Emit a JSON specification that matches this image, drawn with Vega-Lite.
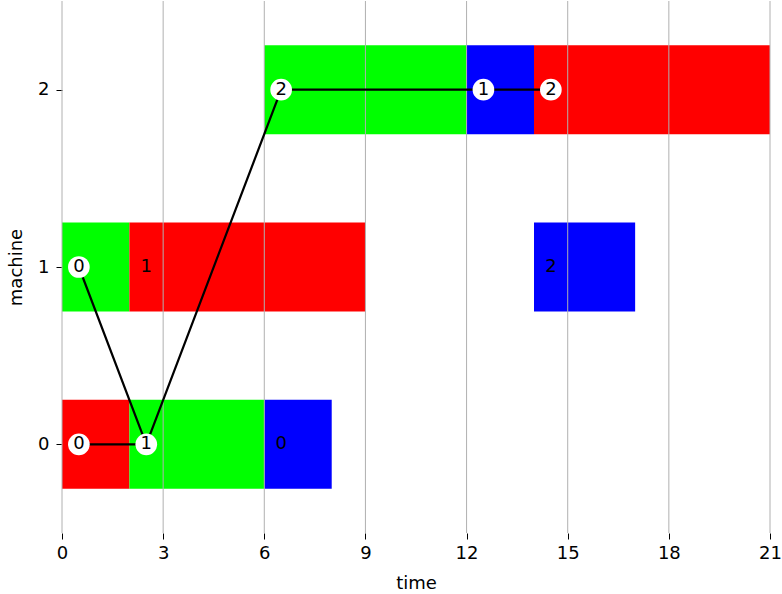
{
  "$schema": "https://vega.github.io/schema/vega-lite/v6.json",
  "width": 708,
  "height": 532,
  "autosize": {"type": "none"},
  "padding": {"left": 62, "top": 1, "right": 12, "bottom": 61},
  "background": "white",
  "config": {
    "view": {"stroke": null},
    "font": "DejaVu Sans"
  },
  "datasets": {
    "tasks": [
      {"machine": 0, "job": "red", "op": "0", "start": 0, "end": 2, "lx": 0.5, "crit": true},
      {"machine": 0, "job": "green", "op": "1", "start": 2, "end": 6, "lx": 2.5, "crit": true},
      {"machine": 0, "job": "blue", "op": "0", "start": 6, "end": 8, "lx": 6.5, "crit": false},
      {"machine": 1, "job": "green", "op": "0", "start": 0, "end": 2, "lx": 0.5, "crit": true},
      {"machine": 1, "job": "red", "op": "1", "start": 2, "end": 9, "lx": 2.5, "crit": false},
      {"machine": 1, "job": "blue", "op": "2", "start": 14, "end": 17, "lx": 14.5, "crit": false},
      {"machine": 2, "job": "green", "op": "2", "start": 6, "end": 12, "lx": 6.5, "crit": true},
      {"machine": 2, "job": "blue", "op": "1", "start": 12, "end": 14, "lx": 12.5, "crit": true},
      {"machine": 2, "job": "red", "op": "2", "start": 14, "end": 21, "lx": 14.5, "crit": true}
    ],
    "path": [
      {"seg": "a", "ord": 0, "t": 0.5, "machine": 0},
      {"seg": "a", "ord": 1, "t": 2.5, "machine": 0},
      {"seg": "b", "ord": 0, "t": 0.5, "machine": 1},
      {"seg": "b", "ord": 1, "t": 2.5, "machine": 0},
      {"seg": "b", "ord": 2, "t": 6.5, "machine": 2},
      {"seg": "b", "ord": 3, "t": 12.5, "machine": 2},
      {"seg": "b", "ord": 4, "t": 14.5, "machine": 2}
    ],
    "grid": [{"t": 0}, {"t": 3}, {"t": 6}, {"t": 9}, {"t": 12}, {"t": 15}, {"t": 18}, {"t": 21}]
  },
  "layer": [
    {
      "data": {"name": "tasks"},
      "mark": {"type": "bar", "height": 89, "cornerRadius": 0},
      "encoding": {
        "x": {"field": "start", "type": "quantitative", "scale": {"domain": [0, 21], "nice": false, "zero": false, "padding": 0},
          "axis": {"values": [0, 3, 6, 9, 12, 15, 18, 21], "format": "d", "title": "time", "labelFlush": false, "labelPadding": 5, "titlePadding": 12,
            "labelFont": "DejaVu Sans", "titleFont": "DejaVu Sans", "labelFontSize": 18, "titleFontSize": 18, "titleFontWeight": "normal", "labelColor": "black", "titleColor": "black", "tickColor": "black", "tickSize": 6, "tickWidth": 1, "domain": false, "grid": false}},
        "x2": {"field": "end"},
        "y": {"field": "machine", "type": "quantitative", "scale": {"domain": [-0.5, 2.5], "nice": false, "zero": false, "padding": 0},
          "axis": {"values": [0, 1, 2], "format": "d", "title": "machine", "labelFlush": false, "labelPadding": 7, "titlePadding": 12,
            "labelFont": "DejaVu Sans", "titleFont": "DejaVu Sans", "labelFontSize": 18, "titleFontSize": 18, "titleFontWeight": "normal", "labelColor": "black", "titleColor": "black", "tickColor": "black", "tickSize": 6, "tickWidth": 1, "domain": false, "grid": false}},
        "color": {"field": "job", "type": "nominal", "scale": {"domain": ["red", "green", "blue"], "range": ["#ff0000", "#00ff00", "#0000ff"]}, "legend": null}
      }
    },
    {
      "data": {"name": "grid"},
      "mark": {"type": "rule", "color": "#b0b0b0", "strokeWidth": 1},
      "encoding": {"x": {"field": "t", "type": "quantitative"}}
    },
    {
      "data": {"name": "path"},
      "mark": {"type": "line", "color": "black", "strokeWidth": 2.2},
      "encoding": {
        "x": {"field": "t", "type": "quantitative"},
        "y": {"field": "machine", "type": "quantitative"},
        "detail": {"field": "seg"},
        "order": {"field": "ord"}
      }
    },
    {
      "data": {"name": "tasks"},
      "transform": [{"filter": "datum.crit"}],
      "mark": {"type": "point", "filled": true, "color": "white", "opacity": 1, "size": 470, "shape": "circle"},
      "encoding": {
        "x": {"field": "lx", "type": "quantitative"},
        "y": {"field": "machine", "type": "quantitative"}
      }
    },
    {
      "data": {"name": "tasks"},
      "mark": {"type": "text", "font": "DejaVu Sans", "fontSize": 18, "color": "black", "baseline": "middle", "align": "center"},
      "encoding": {
        "x": {"field": "lx", "type": "quantitative"},
        "y": {"field": "machine", "type": "quantitative"},
        "text": {"field": "op"}
      }
    }
  ]
}
